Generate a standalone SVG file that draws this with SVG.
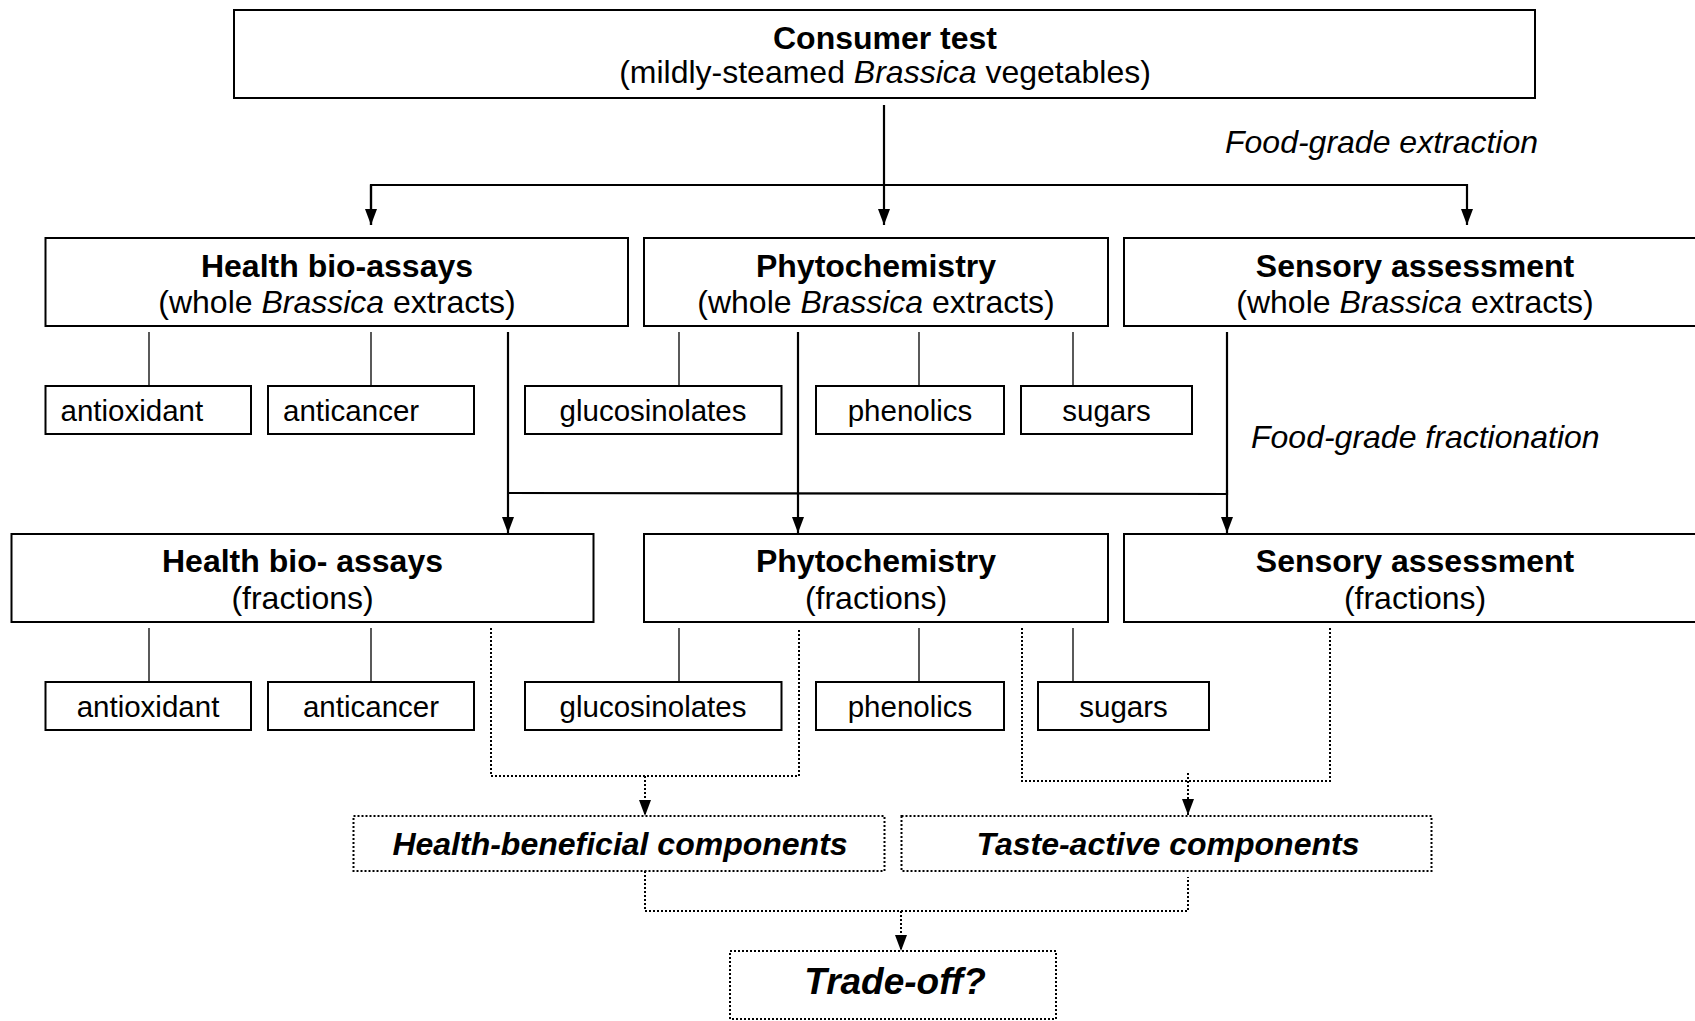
<svg xmlns="http://www.w3.org/2000/svg" width="1695" height="1021" viewBox="0 0 1695 1021">
<style>
text{font-family:"Liberation Sans",Arial,sans-serif;font-size:32px;fill:#000}
.b{font-weight:bold}
.i{font-style:italic}
.c{text-anchor:middle}
.s{font-size:29.5px}
.box{fill:#fff;stroke:#000;stroke-width:2}
.dbox{fill:#fff;stroke:#000;stroke-width:2;stroke-dasharray:2 2}
.ln{fill:none;stroke:#000;stroke-width:2.2}
.thin{fill:none;stroke:#000;stroke-width:1.3}
.dot{fill:none;stroke:#000;stroke-width:2;stroke-dasharray:2 2}
</style>
<defs>
<marker id="ah" viewBox="0 0 16 12" refX="16" refY="6" markerWidth="16" markerHeight="12" markerUnits="userSpaceOnUse" orient="auto">
<path d="M0,0 L16,6 L0,12 z" fill="#000"/>
</marker>
</defs>
<rect width="1695" height="1021" fill="#fff"/>

<g id="connectors">
<line class="ln" x1="884" y1="105" x2="884" y2="225" marker-end="url(#ah)"/>
<polyline class="ln" points="371,225 371,185 1467,185 1467,225" marker-end="url(#ah)"/>
<line class="ln" x1="371" y1="185" x2="371" y2="225" marker-end="url(#ah)"/>
<line class="thin" x1="149" y1="332" x2="149" y2="386"/>
<line class="thin" x1="371" y1="332" x2="371" y2="386"/>
<line class="thin" x1="679" y1="332" x2="679" y2="386"/>
<line class="thin" x1="919" y1="332" x2="919" y2="386"/>
<line class="thin" x1="1073" y1="332" x2="1073" y2="386"/>
<polyline class="ln" points="1227,332 1227,494 508,493"/>
<line class="ln" x1="508" y1="332" x2="508" y2="533" marker-end="url(#ah)"/>
<line class="ln" x1="798" y1="332" x2="798" y2="533" marker-end="url(#ah)"/>
<line class="ln" x1="1227" y1="490" x2="1227" y2="533" marker-end="url(#ah)"/>
<line class="thin" x1="149" y1="628" x2="149" y2="682"/>
<line class="thin" x1="371" y1="628" x2="371" y2="682"/>
<line class="thin" x1="679" y1="628" x2="679" y2="682"/>
<line class="thin" x1="919" y1="628" x2="919" y2="682"/>
<line class="thin" x1="1073" y1="628" x2="1073" y2="682"/>
<polyline class="dot" points="491,628 491,776 799,776 799,628"/>
<line class="dot" x1="645" y1="776" x2="645" y2="816" marker-end="url(#ah)"/>
<polyline class="dot" points="1022,628 1022,781 1330,781 1330,628"/>
<line class="dot" x1="1188" y1="773" x2="1188" y2="815" marker-end="url(#ah)"/>
<polyline class="dot" points="645,871 645,911 1188,911 1188,877"/>
<line class="dot" x1="901" y1="911" x2="901" y2="951" marker-end="url(#ah)"/>
</g>

<g id="lbl-extraction"><text class="i" x="1225" y="153">Food-grade extraction</text></g>
<g id="lbl-fractionation"><text class="i" x="1251" y="448">Food-grade fractionation</text></g>

<g id="consumer-test">
<rect class="box" x="234" y="10" width="1301" height="88"/>
<text class="b c" x="885" y="49">Consumer test</text>
<text class="c" x="885" y="83">(mildly-steamed <tspan class="i">Brassica</tspan> vegetables)</text>
</g>

<g id="health-whole">
<rect class="box" x="45.5" y="238" width="582.5" height="88"/>
<text class="b c" x="337" y="277">Health bio-assays</text>
<text class="c" x="337" y="313">(whole <tspan class="i">Brassica</tspan> extracts)</text>
</g>
<g id="phyto-whole">
<rect class="box" x="644" y="238" width="464" height="88"/>
<text class="b c" x="876" y="277">Phytochemistry</text>
<text class="c" x="876" y="313">(whole <tspan class="i">Brassica</tspan> extracts)</text>
</g>
<g id="sensory-whole">
<rect class="box" x="1124" y="238" width="582" height="88"/>
<text class="b c" x="1415" y="277">Sensory assessment</text>
<text class="c" x="1415" y="313">(whole <tspan class="i">Brassica</tspan> extracts)</text>
</g>

<g id="antioxidant-1"><rect class="box" x="45.5" y="386" width="205.5" height="48"/><text class="s" x="60.5" y="421">antioxidant</text></g>
<g id="anticancer-1"><rect class="box" x="268" y="386" width="206" height="48"/><text class="s" x="283" y="421">anticancer</text></g>
<g id="glucosinolates-1"><rect class="box" x="525" y="386" width="256.5" height="48"/><text class="s c" x="653" y="421">glucosinolates</text></g>
<g id="phenolics-1"><rect class="box" x="816" y="386" width="188" height="48"/><text class="s c" x="910" y="421">phenolics</text></g>
<g id="sugars-1"><rect class="box" x="1021" y="386" width="171" height="48"/><text class="s c" x="1106.5" y="421">sugars</text></g>

<g id="health-fractions">
<rect class="box" x="11.5" y="534" width="582" height="88"/>
<text class="b c" x="302.5" y="572">Health bio- assays</text>
<text class="c" x="302.5" y="609">(fractions)</text>
</g>
<g id="phyto-fractions">
<rect class="box" x="644" y="534" width="464" height="88"/>
<text class="b c" x="876" y="572">Phytochemistry</text>
<text class="c" x="876" y="609">(fractions)</text>
</g>
<g id="sensory-fractions">
<rect class="box" x="1124" y="534" width="582" height="88"/>
<text class="b c" x="1415" y="572">Sensory assessment</text>
<text class="c" x="1415" y="609">(fractions)</text>
</g>

<g id="antioxidant-2"><rect class="box" x="45.5" y="682" width="205.5" height="48"/><text class="s c" x="148" y="717">antioxidant</text></g>
<g id="anticancer-2"><rect class="box" x="268" y="682" width="206" height="48"/><text class="s c" x="371" y="717">anticancer</text></g>
<g id="glucosinolates-2"><rect class="box" x="525" y="682" width="256.5" height="48"/><text class="s c" x="653" y="717">glucosinolates</text></g>
<g id="phenolics-2"><rect class="box" x="816" y="682" width="188" height="48"/><text class="s c" x="910" y="717">phenolics</text></g>
<g id="sugars-2"><rect class="box" x="1038" y="682" width="171" height="48"/><text class="s c" x="1123.5" y="717">sugars</text></g>

<g id="health-beneficial">
<rect class="dbox" x="353.5" y="816" width="531" height="55"/>
<text class="b i c" x="620" y="855">Health-beneficial components</text>
</g>
<g id="taste-active">
<rect class="dbox" x="901.5" y="816" width="530" height="55"/>
<text class="b i c" x="1168" y="855">Taste-active components</text>
</g>
<g id="trade-off">
<rect class="dbox" x="730" y="951" width="326" height="68"/>
<text class="b i c" x="895" y="994" style="font-size:37px">Trade-off?</text>
</g>
</svg>
